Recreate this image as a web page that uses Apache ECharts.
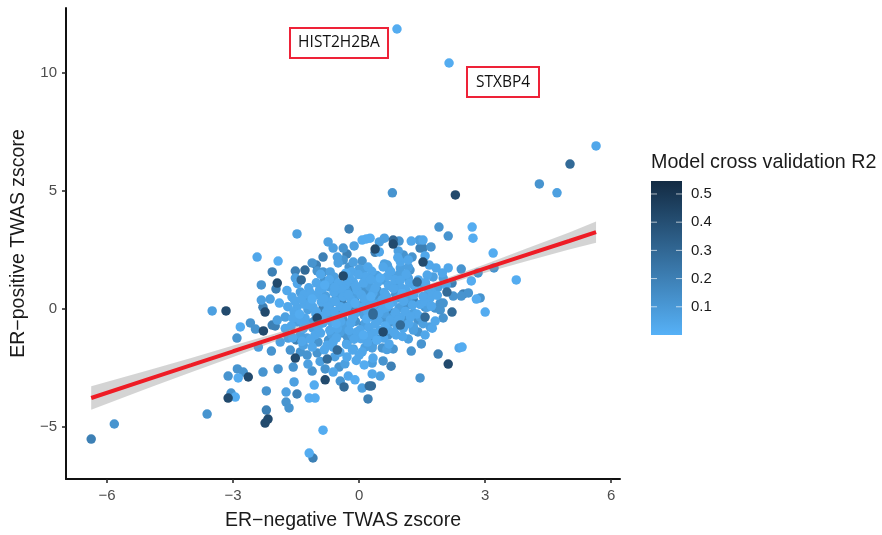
<!DOCTYPE html>
<html>
<head>
<meta charset="utf-8">
<script src="https://cdn.jsdelivr.net/npm/echarts@6/dist/echarts.min.js"></script>
<style>html,body{margin:0;padding:0;background:#fff}#c{width:882px;height:535px}</style>
</head>
<body>
<div id="c"></div>
<script>
// Each group: [ER-negative z, ER-positive z] at one read-off R2 shade
var r2Light = [[.9,11.86],[2.14,10.42],[3.74,1.23],[3.19,2.37],[2.69,3.47],[2.71,3],[-1.93,2.03],[-1.9,.25],[.07,2.92],[.17,2.97],[.26,3],[-2.83,-.76],[-2.88,-2.92],[-2.95,-3.73],[-1.19,-6.1],[-.86,-5.13],[-1.19,-3.77],[-1.05,-3.77],[-1.07,-3.22],[2.67,1.19],[2.79,.42],[3,-.13],[2.45,-1.61],[.12,-2.37],[-.1,-3],[.1,-1.1],[-.1,.25],[.5,1.31],[.62,-.72],[-1.12,.42],[.28,.52],[-.55,-.62],[1.02,.66],[.18,-.42],[-.82,1.02],[.72,.18],[-.32,1.52],[1.36,.82],[-1.42,-.22],[.42,-1.32]];
var r2LightMid = [[5.64,6.91],[-2.43,2.2],[1.52,2.92],[1.57,2.25],[1.67,1.86],[1.83,1.74],[2.12,1.74],[1.62,1.44],[1.98,1.53],[.48,2.42],[1.24,2.88],[.98,2],[1.17,2.08],[.21,1.78],[-.86,.89],[-.33,1.02],[-.14,1.14],[-.69,.3],[-.1,.25],[1.69,.47],[2.38,-1.65],[1.57,-1.1],[1.74,-.81],[1.81,-.51],[.88,-1.1],[.33,-2.08],[.07,-1.82],[0,-1.95],[-.29,-2.03],[-.62,-2.67],[-.26,-2.84],[.31,-2.75],[-.76,-1.53],[-.62,-1.4],[-.05,-.97],[1.05,-.81],[.74,-.47],[-1.12,-1.61],[-1.05,-1.1],[-1.29,-.38],[-1.6,.51],[-1.48,.08],[-1.1,.08],[-1.4,-.47],[-.86,-.59],[-.05,.8],[.33,.68],[.67,.08],[.98,-.34],[.19,.38],[-.45,.1],[.45,-.5],[.2,-.1],[-.6,-.1],[-.9,.3],[.8,.3],[1,.9],[.6,.7],[-.2,.4],[-.6,.7],[-1.2,.9],[1.3,.6],[1.1,-.1],[.5,-.9],[-.2,-.6],[-.7,-.9],[-.3,-1.5],[.2,-1.4],[.7,1],[.1,1.1],[.3,1.6],[-.1,-.2],[.35,.2],[-.35,-.15],[.9,-.7],[1.45,.2],[-1,.6],[-1.3,.2],[-1.7,.1],[-.5,1.1],[.75,1.6],[1.2,1.1],[.05,.6],[.55,.4],[-1.55,-.12],[-1.62,-.72],[-1.33,-.83],[-1.16,-1.28],[-.92,-1.02],[-.78,-.13],[-.47,-.33],[-.24,-.91],[.04,-1.26],[.23,-.78],[.58,-1.23],[.83,-.98],[1.18,-.62],[1.37,-.21],[1.56,.32],[1.73,.72],[1.41,1.23],[1.12,1.47],[.85,1.24],[.44,1.12],[.16,1.37],[-.21,1.26],[-.42,.83],[-.71,1.24],[-1.02,1.11],[-1.31,.62],[-1.53,.33],[-1.18,.17],[-.88,-.33],[-.57,.32],[-.29,.07],[.06,.09],[.31,-.33],[.56,.02],[.86,-.16],[1.06,.33],[1.27,.17],[.65,.55],[.38,.88],[-.08,.97],[-.38,.52],[-.66,-.55],[-.12,-1.28],[.34,-1.02],[.71,-1.48],[1.03,-1.16],[-1.76,-.83],[-1.58,-1.22],[-1.36,-1.37],[-.83,-1.73],[-.46,-1.83],[-.07,-2.18],[-.54,-1.22],[1.58,1.12],[1.86,.58],[2.07,1.02],[1.72,.12],[-1.72,.78],[-1.47,1.08],[-.92,1.47],[-.18,1.58],[.57,1.78],[.92,2.18],[-1.26,-.68],[-1.02,-.12],[-.74,.12],[-.52,-.82],[-.16,-.38],[.02,-.88],[.27,.14],[.47,-.16],[.68,-.86],[.93,-.46],[1.22,-.33],[1.52,.54],[1.31,.99],[.98,1.22],[.67,1.38],[.27,1.26],[-.02,1.46],[-.28,1.21],[-.58,.92],[-.94,.82],[-1.16,.68],[-1.38,.42],[-1.58,-.38],[-.98,-.78],[-.62,-1.62],[-.16,-1.74],[.24,-1.12],[.63,.24],[1.12,.78],[1.64,.88],[-.26,.62],[.12,.44],[-.44,-.52],[-.84,.44],[.38,-.64],[.82,.86]];
var r2MidLight = [[4.71,4.92],[.6,3],[.48,2.84],[-.74,2.84],[-.62,2.58],[-.12,2.67],[.93,2.46],[1.43,2.92],[-.52,2.2],[-.5,1.95],[-.14,1.99],[0,1.69],[.6,1.91],[.69,1.74],[.98,1.74],[1.17,1.78],[-.69,1.57],[-.6,1.36],[.57,1.23],[.93,1.1],[.79,1.44],[1.17,1.31],[.07,1.44],[-.5,.59],[.93,.47],[2,1.31],[1.76,1.36],[1.62,.59],[1.88,.93],[1.5,1.02],[1.17,-1.27],[.31,-1.65],[.31,-2.29],[.5,-2.84],[.07,-3.35],[-.14,-1.69],[-1.33,-1.53],[-1.88,-1.4],[-1.95,-.47],[-1.76,-.34],[-1.48,-.55],[-2.4,-1.61],[-1.74,-3.52],[-1.55,-3.09],[-3.5,-.08],[-2.33,.38],[-2.12,.42],[-1.52,1.31],[-1.48,3.18],[-1.4,.72],[-1.24,.51],[-.69,.93],[.98,1.53],[.67,1.86],[.1,1.65],[1.29,-.17],[1.62,.08],[1.29,-.76],[1.45,-.34],[1.69,-.76],[1.29,-.89],[-.45,-.97],[-.17,-1.1],[-1.21,-.59],[-1.24,-1.23],[-1.69,-1.23],[-1.4,-1.1],[-1.1,-.81],[-.62,-.47],[.6,-.2],[.15,-.6],[-.75,-.25],[.95,.05],[-.3,.75],[.25,.95],[-1.03,-.21],[-.66,-1.06],[-.33,-.72],[.12,-.27],[.48,.27],[.78,-.36],[1.17,.48],[-1.22,-.03],[-.12,.52],[.42,1.42],[-.8,.55],[.14,-1.62],[.66,-1.72],[-.58,-2.02],[-.93,-2.22],[-1.22,-2.33],[-.34,-2.32],[1.52,-.62],[1.08,.82]];
var r2Mid = [[-5.83,-4.87],[1.9,3.47],[2.12,3.09],[.95,2.88],[-.38,2.58],[1.05,2.29],[1.26,2.2],[-.38,2.08],[.07,2.03],[-.24,1.78],[-.86,1.57],[1.71,2.63],[-.83,1.19],[-.55,1.1],[1.21,1.65],[.43,.8],[.1,.8],[-.17,.68],[.21,.3],[.57,.47],[1.14,.17],[2.43,1.69],[3.21,1.74],[2.83,1.53],[2.24,.55],[2.6,.68],[2.43,.55],[2.88,.47],[1.93,.25],[1.57,.08],[1.81,.04],[1.93,-.04],[2,.25],[2,-.38],[1.4,-.97],[1.48,-1.48],[1.24,-1.78],[1.45,-2.92],[.81,-1.69],[.55,-1.65],[.57,-2.2],[.31,-1.53],[.43,-1.27],[.69,-1.1],[-.48,-2.46],[-.81,-2.54],[-.45,-3.05],[-.29,-1.44],[.1,-.68],[-.14,-.34],[-.38,-.47],[-1.64,-1.74],[-1.4,-1.82],[-1.24,-1.95],[-1,-1.86],[-.98,-1.4],[-2.59,-.59],[-2.47,-.85],[-2.91,-1.23],[-2.09,-1.78],[-1.57,-2.46],[-1.93,-2.54],[-2.29,-2.67],[-2.9,-2.54],[-3.12,-2.84],[-2.76,-2.67],[-3.05,-3.56],[-2.21,-3.47],[-1.74,-3.94],[-1.67,-4.19],[-1.12,-2.63],[-3.62,-4.45],[.79,4.92],[4.29,5.3],[-2.33,1.02],[-1.12,1.95],[-1,1.61],[1.14,-.47],[1.4,-.47],[-.38,-1.02],[.4,.1],[-.05,.15],[-.7,.2],[.75,-.55],[-.18,.22],[.08,-.12],[.33,.42],[-.44,-.22],[.22,.58],[-.09,-.52],[.58,-.38],[-.55,.44],[.87,.62],[-.28,-1.18],[-1.08,-.53],[-.73,-1.32],[.47,.62],[-.22,1.02]];
var r2MidDark = [[-6.38,-5.51],[-.24,3.39],[.38,2.4],[-.29,2.33],[-.86,2.2],[1.52,2.58],[1.45,2.58],[-2.07,1.57],[-1.52,1.61],[-1.02,1.86],[-1.98,.85],[-2.29,.08],[-.38,.17],[-.86,.04],[1.29,.38],[.79,-.17],[2.21,1.1],[2.48,.64],[.81,.89],[1.88,-1.91],[.76,-2.42],[.21,-3.81],[.26,-1.19],[-2.21,-4.28],[-1.48,-3.6],[-1.1,-6.31],[-2.07,-.68],[-2,-.72],[-.1,.3],[.21,1.23],[-1.5,-1.31],[-.17,.02],[.12,.22],[-.42,.36],[.62,-.02]];
var r2DarkMid = [[5.02,6.14],[.81,2.92],[-1.29,1.65],[-1.38,1.23],[1.38,1.14],[.33,-.17],[.33,-.25],[2.09,.72],[2.21,-.13],[1.57,-.34],[.98,-.68],[-.76,-2.12],[-.52,-1.74],[.24,-3.26],[.29,-3.26],[-.36,-3.3]];
var r2Dark = [[2.29,4.83],[.38,2.54],[.81,2.75],[1.52,1.99],[-.38,1.4],[-1.95,1.1],[-3.17,-.08],[-2.24,-.13],[-2.28,-.93],[-1.52,-2.08],[-1,-.38],[.57,-.97],[2.12,-2.33],[-.81,-3],[-2.64,-2.88],[-3.12,-3.77],[-2.17,-4.66],[-2.24,-4.83]];
var r2Levels = [0.02, 0.04, 0.07, 0.12, 0.2, 0.29, 0.42];

var fitX = [-6.38, -5, -4, -3, -2, -1, 0, 1, 2, 3, 4, 5, 5.64];
var fitY = [-3.77, -2.96, -2.38, -1.79, -1.21, -0.62, -0.04, 0.55, 1.13, 1.72, 2.3, 2.88, 3.26];
var fitLow = [-4.27, -3.34, -2.68, -2.03, -1.38, -0.75, -0.14, 0.44, 1, 1.54, 2.03, 2.52, 2.81];
var fitHigh = [-3.27, -2.58, -2.08, -1.55, -1.04, -0.49, 0.06, 0.66, 1.26, 1.9, 2.57, 3.24, 3.71];

var xTicks = [-6, -3, 0, 3, 6];
var yTicks = [-5, 0, 5, 10];
var legendTicks = [0.1, 0.2, 0.3, 0.4, 0.5];
var legendMax = 0.546;
var geneLabels = ['HIST2H2BA', 'STXBP4'];

var groups = [[r2MidDark,4],[r2Mid,3],[r2MidLight,2],[r2LightMid,1],[r2Light,0],[r2DarkMid,5],[r2Dark,6]];
var scatterData = [];
groups.forEach(function (g) {
  g[0].forEach(function (p) { scatterData.push([p[0], p[1], r2Levels[g[1]]]); });
});
var font = '"Liberation Sans", Arial, sans-serif';
function minus(v) { return String(v).replace('-', '\u2212'); }

var chart = echarts.init(document.getElementById('c'), null, {renderer: 'canvas'});
chart.setOption({
  animation: false,
  backgroundColor: '#fff',
  textStyle: {fontFamily: font},
  title: {
    text: 'Model cross validation R2', left: 651, top: 153, padding: 0,
    textStyle: {fontFamily: font, fontSize: 19.7, fontWeight: 'normal', color: '#1a1a1a'}
  },
  grid: [
    {left: 66, right: 262, top: 8, bottom: 56, outerBoundsMode: 'none'},
    {left: 651, width: 31, top: 181, height: 154, outerBoundsMode: 'none'}
  ],
  xAxis: [{
    type: 'value', gridIndex: 0, min: -6.98, max: 6.21, splitLine: {show: false},
    name: 'ER\u2212negative TWAS zscore', nameLocation: 'middle', nameGap: 32,
    nameTextStyle: {fontSize: 19.5, color: '#1a1a1a', fontFamily: font},
    axisLine: {onZero: false, lineStyle: {color: '#111', width: 2}},
    axisTick: {length: 4, customValues: xTicks, lineStyle: {color: '#222', width: 1.5}},
    axisLabel: {customValues: xTicks, color: '#4d4d4d', fontSize: 15, margin: 9, formatter: minus}
  }, {
    type: 'category', gridIndex: 1, data: ['R2'], show: false
  }],
  yAxis: [{
    type: 'value', gridIndex: 0, min: -7.2, max: 12.75, splitLine: {show: false},
    name: 'ER\u2212positive TWAS zscore', nameLocation: 'middle', nameGap: 29,
    nameTextStyle: {fontSize: 19.5, color: '#1a1a1a', fontFamily: font},
    axisLine: {onZero: false, lineStyle: {color: '#111', width: 2}},
    axisTick: {length: 4, customValues: yTicks, lineStyle: {color: '#222', width: 1.5}},
    axisLabel: {customValues: yTicks, color: '#4d4d4d', fontSize: 15, margin: 9, formatter: minus}
  }, {
    type: 'value', gridIndex: 1, min: 0, max: legendMax, position: 'right',
    splitLine: {show: false}, axisLine: {show: false}, axisTick: {show: false},
    axisLabel: {customValues: legendTicks, color: '#1a1a1a', fontSize: 15, margin: 9}
  }],
  visualMap: {
    show: false, type: 'continuous', seriesIndex: 0, dimension: 2,
    min: 0, max: legendMax, inRange: {color: ['#56B1F7', '#132B43']}
  },
  series: [{
    type: 'scatter', xAxisIndex: 0, yAxisIndex: 0, data: scatterData,
    symbolSize: 9.5, itemStyle: {opacity: 1}, silent: true, z: 2
  }, {
    type: 'custom', xAxisIndex: 0, yAxisIndex: 0, data: [[0, 0]], z: 3, silent: true,
    renderItem: function (params, api) {
      var pts = [], i;
      for (i = 0; i < fitX.length; i++) pts.push(api.coord([fitX[i], fitHigh[i]]));
      for (i = fitX.length - 1; i >= 0; i--) pts.push(api.coord([fitX[i], fitLow[i]]));
      return {type: 'polygon', shape: {points: pts}, style: {fill: 'rgba(153,153,153,0.42)'}};
    }
  }, {
    type: 'line', xAxisIndex: 0, yAxisIndex: 0, z: 4, silent: true, symbol: 'none',
    data: fitX.map(function (x, i) { return [x, fitY[i]]; }),
    lineStyle: {color: '#EE1C25', width: 4, cap: 'butt'}
  }, {
    type: 'bar', xAxisIndex: 1, yAxisIndex: 1, data: [legendMax], barWidth: '100%', silent: true, z: 2,
    itemStyle: {color: {type: 'linear', x: 0, y: 1, x2: 0, y2: 0, colorStops: [
      {offset: 0, color: '#56B1F7'}, {offset: 1, color: '#132B43'}]}}
  }, {
    type: 'custom', xAxisIndex: 1, yAxisIndex: 1, z: 3, silent: true,
    data: legendTicks.map(function (v) { return ['R2', v]; }),
    renderItem: function (params, api) {
      var c = api.coord(['R2', api.value(1)]);
      var half = api.size(['R2', 0])[0] / 2;
      var style = {stroke: 'rgba(255,255,255,0.65)', lineWidth: 1};
      return {type: 'group', children: [
        {type: 'line', shape: {x1: c[0] - half, y1: c[1], x2: c[0] - half + 6, y2: c[1]}, style: style},
        {type: 'line', shape: {x1: c[0] + half - 6, y1: c[1], x2: c[0] + half, y2: c[1]}, style: style}
      ]};
    }
  }],
  graphic: [
    {type: 'rect', shape: {x: 290, y: 28, width: 98, height: 30}, style: {fill: '#fff', stroke: '#EE2238', lineWidth: 2}, z: 10},
    {type: 'text', x: 339, y: 43, z: 11, style: {text: geneLabels[0], fill: '#111', font: '15.5px "Open Sans", sans-serif', align: 'center', verticalAlign: 'middle'}},
    {type: 'rect', shape: {x: 467, y: 67, width: 72, height: 30}, style: {fill: '#fff', stroke: '#EE2238', lineWidth: 2}, z: 10},
    {type: 'text', x: 503, y: 83, z: 11, style: {text: geneLabels[1], fill: '#111', font: '15.5px "Open Sans", sans-serif', align: 'center', verticalAlign: 'middle'}}
  ]
});
</script>
</body>
</html>
